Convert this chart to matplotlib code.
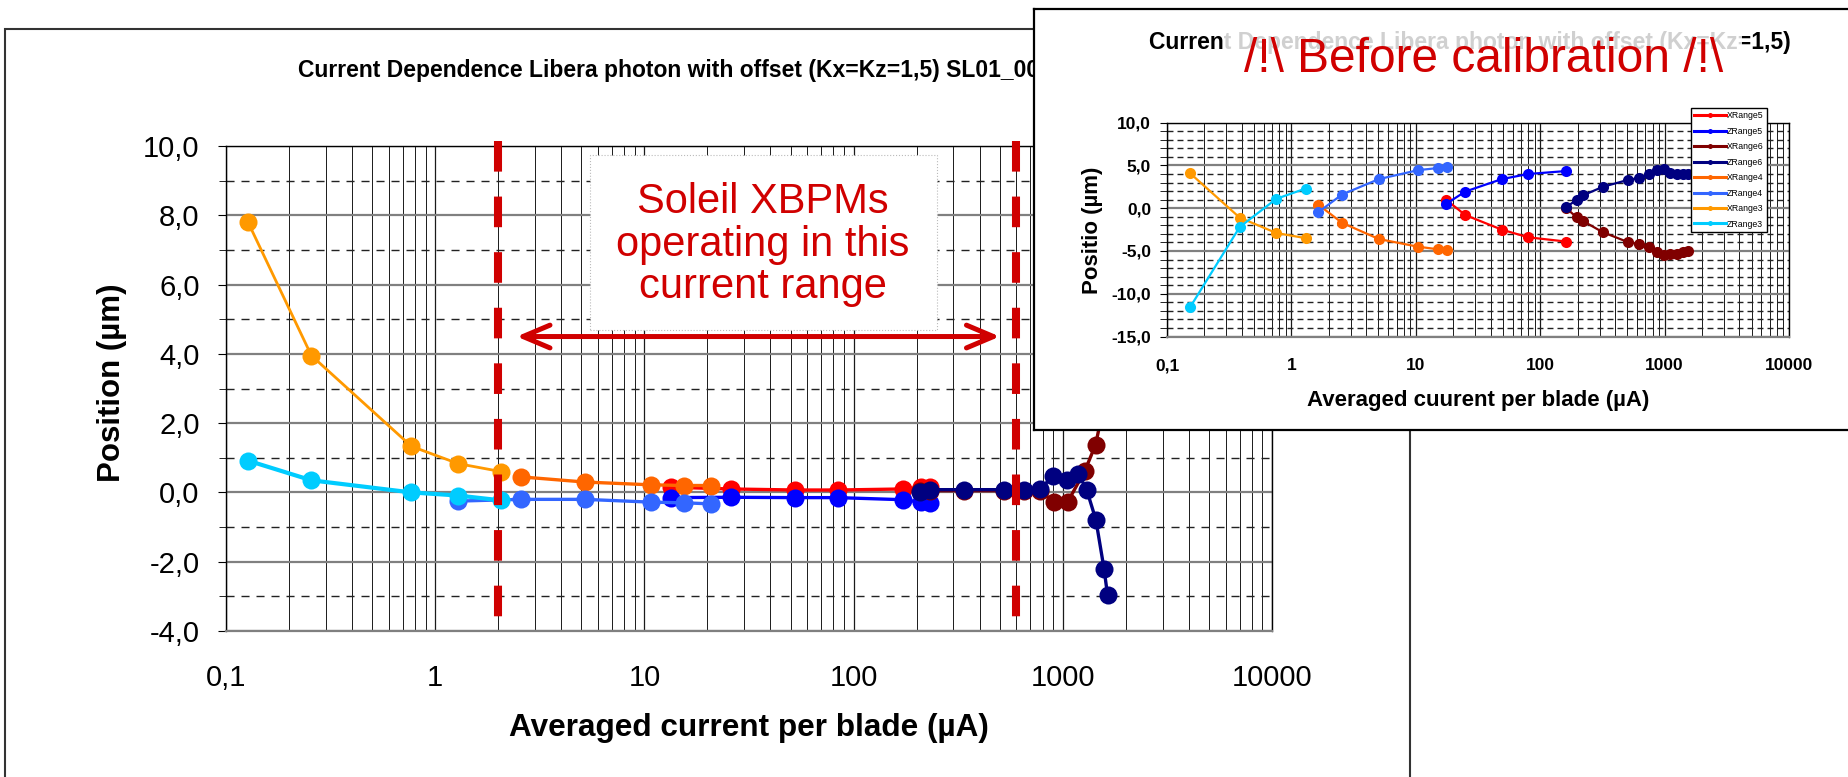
import numpy as np
import matplotlib
matplotlib.use('Agg')
import matplotlib.pyplot as plt
from matplotlib.patches import Rectangle
from matplotlib.ticker import LogLocator, MultipleLocator, FuncFormatter, NullFormatter

plt.rcParams['font.family'] = ['Liberation Sans', 'DejaVu Sans']

# Set values

W, H = 1848, 777

names = ['XRange5', 'ZRange5', 'XRange6', 'ZRange6', 'XRange4', 'ZRange4', 'XRange3', 'ZRange3']
colors = ['#FF0000', '#0000FF', '#800000', '#000080', '#FF6600', '#3366FF', '#FF9900', '#00CCFF']
widths = [2.4, 2.4, 2.4, 2.4, 2.4, 2.4, 2.0, 3.0]

# after calibration (big chart)
cur3 = [0.127, 0.256, 0.77, 1.29, 2.07]
x3 = [7.82, 3.95, 1.33, 0.83, 0.6]
z3 = [0.92, 0.35, 0.0, -0.09, -0.23]
cur4x = [2.56, 5.19, 10.7, 15.5, 20.8]
x4 = [0.45, 0.3, 0.22, 0.2, 0.2]
cur4z = [1.29, 2.56, 5.19, 10.7, 15.5, 20.8]
z4 = [-0.25, -0.2, -0.2, -0.28, -0.3, -0.33]
cur5 = [13.4, 25.9, 52.5, 84.3, 172, 210, 232]
x5 = [0.15, 0.1, 0.07, 0.07, 0.1, 0.15, 0.15]
z5 = [-0.15, -0.14, -0.15, -0.15, -0.21, -0.28, -0.31]
cur6x = [207, 231, 337, 522, 651, 776, 908, 1054, 1276, 1435, 1620, 1700]
x6 = [0.05, 0.05, 0.05, 0.05, 0.05, 0.05, -0.28, -0.28, 0.63, 1.38, 2.9, 4.5]
cur6z = [207, 231, 337, 522, 651, 776, 899, 1042, 1186, 1300, 1439, 1574, 1637]
z6 = [0.01, 0.08, 0.08, 0.08, 0.08, 0.1, 0.46, 0.37, 0.54, 0.08, -0.79, -2.2, -2.97]

# before calibration (inset slide)
b_cur3 = [0.153, 0.384, 0.757, 1.30]
b_x3 = [4.1, -1.1, -2.9, -3.5]
b_z3 = [-11.6, -2.2, 1.1, 2.3]
b_cur4 = [1.65, 2.55, 5.04, 10.4, 15.1, 17.9]
b_x4 = [0.4, -1.7, -3.6, -4.5, -4.8, -4.9]
b_z4 = [-0.45, 1.6, 3.4, 4.45, 4.7, 4.8]
b_cur5 = [17.5, 25.0, 49.0, 80.0, 162]
b_x5 = [1.0, -0.8, -2.5, -3.4, -3.9]
b_z5 = [0.5, 1.95, 3.4, 4.0, 4.35]
b_cur6 = [162, 196, 221, 318, 505, 627, 754, 874, 989, 1105, 1250, 1413, 1550]
b_x6 = [0.0, -1.05, -1.5, -2.8, -3.95, -4.2, -4.55, -5.15, -5.5, -5.4, -5.3, -5.15, -5.0]
b_z6 = [0.1, 1.0, 1.5, 2.5, 3.3, 3.55, 3.95, 4.5, 4.6, 4.1, 3.95, 3.95, 3.95]

after = [(cur5, x5), (cur5, z5), (cur6x, x6), (cur6z, z6),
         (cur4x, x4), (cur4z, z4), (cur3, x3), (cur3, z3)]
before = [(b_cur5, b_x5), (b_cur5, b_z5), (b_cur6, b_x6), (b_cur6, b_z6),
          (b_cur4, b_x4), (b_cur4, b_z4), (b_cur3, b_x3), (b_cur3, b_z3)]

# operating range of the Soleil XBPMs
range_lo, range_hi = 2, 600
arrow_lo, arrow_hi, arrow_y = 2.45, 500, 4.5
dash_top, dash_bot = 10.15, -3.69

red = '#D00000'


def fx(px):
    return px / W


def fy(py):
    return 1 - py / H


def fmt_cur(v, pos):
    return ('%g' % v).replace('.', ',')


def fmt_pos(v, pos):
    if abs(v) < 1e-9:
        v = 0.0
    return ('%.1f' % v).replace('.', ',')


def log_grid(ax, ymajor, yminor, dash):
    ax.set_xscale('log')
    ax.xaxis.set_major_locator(LogLocator(base=10))
    ax.xaxis.set_minor_locator(LogLocator(base=10, subs=np.arange(2, 10), numticks=60))
    ax.xaxis.set_minor_formatter(NullFormatter())
    ax.xaxis.set_major_formatter(FuncFormatter(fmt_cur))
    ax.yaxis.set_major_locator(MultipleLocator(ymajor))
    ax.yaxis.set_minor_locator(MultipleLocator(yminor))
    ax.yaxis.set_major_formatter(FuncFormatter(fmt_pos))
    ax.grid(which='major', axis='x', color='#1a1a1a', lw=0.9)
    ax.grid(which='minor', axis='x', color='#1a1a1a', lw=0.7)
    ax.grid(which='major', axis='y', color='#808080', lw=1.6)
    ax.grid(which='minor', axis='y', color='#222222', lw=1.0, ls=(0, dash))
    for s in ['left', 'top', 'right']:
        ax.spines[s].set_color('black')
        ax.spines[s].set_linewidth(1.0)
    ax.spines['bottom'].set_color('#808080')
    ax.spines['bottom'].set_linewidth(1.6)


fig = plt.figure(figsize=(W / 100, H / 100), dpi=100)

# slide frame of the big chart
fig.add_artist(Rectangle((fx(5), -0.1), fx(1410) - fx(5), fy(29) + 0.1, transform=fig.transFigure,
                         fill=False, ec='#333333', lw=1.5, zorder=0.5))
fig.text(fx(298), fy(71), 'Current Dependence Libera photon with offset (Kx=Kz=1,5) SL01_0015',
         ha='left', va='center', fontsize=16.5, fontweight='bold', zorder=1)

ax = fig.add_axes([fx(226), fy(631), fx(1272) - fx(226), fy(146) - fy(631)], zorder=1)
log_grid(ax, 2, 1, (5.8, 5.0))
for (xs, ys), name, c, lw in zip(after, names, colors, widths):
    ax.plot(xs, ys, '-o', color=c, lw=lw, ms=13, mew=0, label=name)
ax.set_xlim(0.1, 10000)
ax.set_ylim(-4, 10)
ax.tick_params(axis='x', which='both', length=0, labelsize=21, pad=24)
ax.tick_params(axis='y', which='major', length=6, direction='out', labelsize=21, pad=13)
ax.tick_params(axis='y', which='minor', length=5, direction='out')
ax.set_xlabel('Averaged current per blade (µA)', fontsize=22.7, fontweight='bold')
ax.xaxis.set_label_coords(0.5, -0.169)
ax.set_ylabel('Position (µm)', fontsize=22.5, fontweight='bold')
ax.yaxis.set_label_coords(-0.095, 0.511)

# operating range annotation
for xv in [range_lo, range_hi]:
    ax.plot([xv, xv], [dash_top, dash_bot], color=red, lw=5.8, ls=(0, (3.8, 3.1)),
            dash_capstyle='butt', clip_on=False, zorder=5)
ax.annotate('', xy=(arrow_lo, arrow_y), xytext=(arrow_hi, arrow_y),
            arrowprops=dict(arrowstyle='<->,head_length=0.97,head_width=0.41', color=red,
                            lw=3.6, mutation_scale=20, shrinkA=0, shrinkB=0), zorder=4)
ax.add_patch(Rectangle((0.348, 0.6206), 0.3317, 0.3608, transform=ax.transAxes,
                       fc='white', ec='#bbbbbb', ls=':', lw=0.8, zorder=1.8))
ax.text(0.5134, 0.796, 'Soleil XBPMs\noperating in this\ncurrent range', transform=ax.transAxes,
        ha='center', va='center', fontsize=30, color=red, linespacing=1.08, zorder=3)

# inset slide: before calibration
bg = fig.add_axes([fx(1034), fy(430), 0.5, fy(9) - fy(430)], zorder=5)
bg.set_xticks([])
bg.set_yticks([])
bg.spines['right'].set_visible(False)
for s in ['left', 'top', 'bottom']:
    bg.spines[s].set_linewidth(1.6)

fig.text(fx(1469.5), fy(43), 'Current Dependence Libera photon with offset (Kx=Kz=1,5)',
         ha='center', va='center', fontsize=16.5, fontweight='bold', zorder=5.5)
fig.add_artist(Rectangle((fx(1223), fy(90)), fx(1742) - fx(1223), fy(25) - fy(90),
                         transform=fig.transFigure, fc='white', ec='none', alpha=0.82, zorder=5.6))
fig.text(fx(1484), fy(59), '/!\\ Before calibration /!\\', ha='center', va='center',
         fontsize=34.5, color=red, zorder=5.7)

inax = fig.add_axes([fx(1167), fy(336.5), fx(1789) - fx(1167), fy(122.7) - fy(336.5)], zorder=6)
log_grid(inax, 5, 1, (4.3, 2.9))
for (xs, ys), name, c in zip(before, names, colors):
    inax.plot(xs, ys, '-o', color=c, lw=1.6, ms=8, mew=0, label=name)
inax.set_xlim(0.1, 10000)
inax.set_ylim(-15, 10)
inax.tick_params(axis='x', which='both', length=0, labelsize=12.5, pad=15.5)
inax.tick_params(axis='y', which='both', length=5, direction='out', labelsize=12.5, pad=6.5)
plt.setp(inax.get_xticklabels(), fontweight='bold')
plt.setp(inax.get_yticklabels(), fontweight='bold')
inax.set_xlabel('Averaged cuurent per blade (µA)', fontsize=16, fontweight='bold')
inax.xaxis.set_label_coords(0.5, -0.25)
inax.set_ylabel('Positio (µm)', fontsize=16, fontweight='bold')
inax.yaxis.set_label_coords(-0.103, 0.496)
leg = inax.legend(loc='upper left', bbox_to_anchor=(0.842, 1.07), fontsize=6.3, fancybox=False,
                  edgecolor='black', framealpha=1, handlelength=3.6, handletextpad=0.1,
                  labelspacing=0.74, borderpad=0.4, markerscale=0.45, borderaxespad=0)
leg.get_frame().set_linewidth(1.0)
for line in leg.get_lines():
    line.set_linewidth(2.2)

plt.savefig('out.png', dpi=100)
